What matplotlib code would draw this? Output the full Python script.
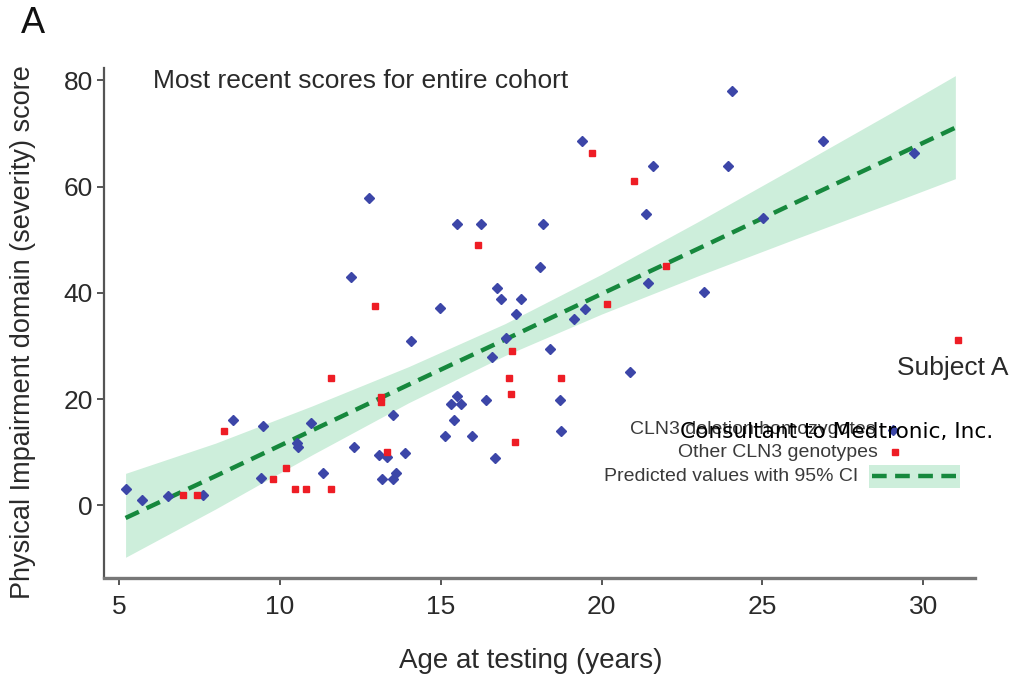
import matplotlib
matplotlib.use("Agg")
import matplotlib.pyplot as plt
from matplotlib.patches import Rectangle
from matplotlib.lines import Line2D

plt.rcParams.update({"font.family": ["Liberation Sans", "DejaVu Sans"],
                     "figure.dpi": 100, "savefig.dpi": 100})

# CLN3 deletion homozygotes: age at testing (years), physical impairment score
homo_age = [5.22, 5.70, 6.52, 7.60, 8.53, 9.46, 9.41, 10.52, 10.57, 10.96, 11.33,
            12.20, 12.31, 12.77, 13.52, 13.08, 13.33, 13.16, 13.52, 13.60, 13.90,
            14.06, 14.97, 15.12, 15.31, 15.40, 15.49, 15.51, 15.62, 15.98, 16.24,
            16.42, 16.59, 16.70, 16.76, 16.86, 17.02, 17.35, 17.48, 18.07, 18.18,
            18.41, 18.71, 18.75, 19.14, 19.39, 19.47, 20.89, 21.39, 21.44, 21.61,
            23.20, 23.94, 24.06, 25.03, 26.90, 29.72]
homo_score = [3.0, 0.9, 1.8, 1.9, 16.0, 14.9, 5.1, 11.7, 11.0, 15.4, 6.0,
              43.0, 11.0, 57.9, 16.9, 9.4, 9.0, 5.0, 5.0, 6.0, 9.9,
              30.9, 37.2, 13.1, 19.0, 16.0, 20.6, 52.9, 19.0, 13.1, 52.9,
              19.9, 27.9, 8.9, 41.0, 38.9, 31.4, 36.0, 38.9, 44.9, 52.9,
              29.5, 19.9, 14.0, 35.0, 68.5, 36.9, 25.0, 54.9, 41.9, 63.8,
              40.1, 63.8, 78.0, 54.0, 68.5, 66.4]

# other CLN3 genotypes (last point is Subject A)
other_age = [6.98, 7.41, 8.27, 9.79, 10.18, 10.47, 10.80, 11.58, 11.58, 12.97,
             13.14, 13.14, 13.33, 16.16, 17.12, 17.17, 17.21, 17.30, 18.75, 19.70,
             20.18, 21.02, 22.01, 31.09]
other_score = [2.0, 2.0, 13.9, 4.9, 7.0, 3.0, 3.0, 3.0, 24.0, 37.5,
               19.5, 20.3, 10.0, 49.1, 24.0, 20.9, 29.0, 11.9, 24.0, 66.4,
               37.9, 61.0, 45.0, 31.1]

# predicted values and 95% CI
fit_age = [5.2, 8, 11, 14, 17, 20, 23, 26, 29, 31]
fit_pred = [-2.4, 5.5, 14.1, 22.7, 31.2, 39.8, 48.3, 56.9, 65.4, 71.1]
ci_low = [-9.8, -0.7, 9.5, 19.3, 28.2, 36.0, 43.2, 50.1, 56.9, 61.5]
ci_high = [6.0, 11.7, 18.7, 26.1, 34.2, 43.5, 53.4, 63.6, 73.9, 80.9]

x_ticks = [5, 10, 15, 20, 25, 30]
y_ticks = [0, 20, 40, 60, 80]

BLUE = "#3c46a8"
RED = "#ee1d25"
GREEN = "#16883d"
BAND = "#cdeedb"
TXT = "#2a2a2a"

fig = plt.figure(figsize=(10.1, 6.82))
ax = fig.add_axes([0.103, 0.1525, 0.862, 0.7475])

ax.fill_between(fit_age, ci_low, ci_high, color=BAND, lw=0, zorder=1)
ax.plot(fit_age, fit_pred, color=GREEN, lw=3.2, ls=(0, (3.3, 1.9)), zorder=2)
ax.plot(homo_age, homo_score, ls="none", marker="D", ms=5.2, color=BLUE,
        mec=BLUE, zorder=3)
ax.plot(other_age, other_score, ls="none", marker="s", ms=5.0, color=RED,
        mec=RED, zorder=4)

ax.set_xlim(4.53, 31.6)
ax.set_ylim(-13.7, 82.3)
ax.set_xticks(x_ticks)
ax.set_yticks(y_ticks)
for s in ("top", "right"):
    ax.spines[s].set_visible(False)
ax.spines["left"].set_color("#555555")
ax.spines["left"].set_linewidth(1.6)
ax.spines["bottom"].set_color("#777777")
ax.spines["bottom"].set_linewidth(2.4)
ax.tick_params(axis="both", colors="#555555", labelcolor=TXT, labelsize=19,
               length=5, width=1.4)
ax.tick_params(axis="x", pad=7)
ax.tick_params(axis="y", pad=3)

ax.set_xlabel("Age at testing (years)", fontsize=20, color=TXT)
ax.xaxis.set_label_coords(0.49, -0.137)
ax.set_ylabel("Physical Impairment domain (severity) score", fontsize=19.5, color=TXT)
ax.yaxis.set_label_coords(-0.078, 0.482)

ax.text(0.056, 0.975, "Most recent scores for entire cohort", transform=ax.transAxes,
        fontsize=19, color=TXT, ha="left", va="center")

# legend, right-aligned labels with keys on the right
lx = 0.889
ax.text(lx - 0.003, 0.291, "CLN3 deletion homozygotes", transform=ax.transAxes,
        fontsize=14, color="#3a3a3a", ha="right", va="center")
ax.text(lx, 0.247, "Other CLN3 genotypes", transform=ax.transAxes,
        fontsize=14, color="#3a3a3a", ha="right", va="center")
ax.text(0.866, 0.200, "Predicted values with 95% CI", transform=ax.transAxes,
        fontsize=14, color="#3a3a3a", ha="right", va="center")
ax.add_line(Line2D([0.9065], [0.291], transform=ax.transAxes, marker="D", ms=5.2,
                   color=BLUE, ls="none"))
ax.add_line(Line2D([0.908], [0.247], transform=ax.transAxes, marker="s", ms=4,
                   color=RED, ls="none"))
ax.add_patch(Rectangle((0.879, 0.176), 0.104, 0.046, transform=ax.transAxes,
                       color=BAND, lw=0, clip_on=False))
ax.add_line(Line2D([0.882, 0.98], [0.200, 0.200], transform=ax.transAxes,
                   color=GREEN, lw=3.2, ls=(0, (3.3, 1.9)), clip_on=False))

fig.text(0.888, 0.461, "Subject A", fontsize=19, color=TXT, ha="left", va="center")
fig.text(0.673, 0.366, "Consultant to Medtronic, Inc.", fontsize=15.6, color="black",
         family="DejaVu Sans", ha="left", va="center")
fig.text(0.021, 0.966, "A", fontsize=26, color="#111111", ha="left", va="center")

fig.savefig("out.png", dpi=100)
